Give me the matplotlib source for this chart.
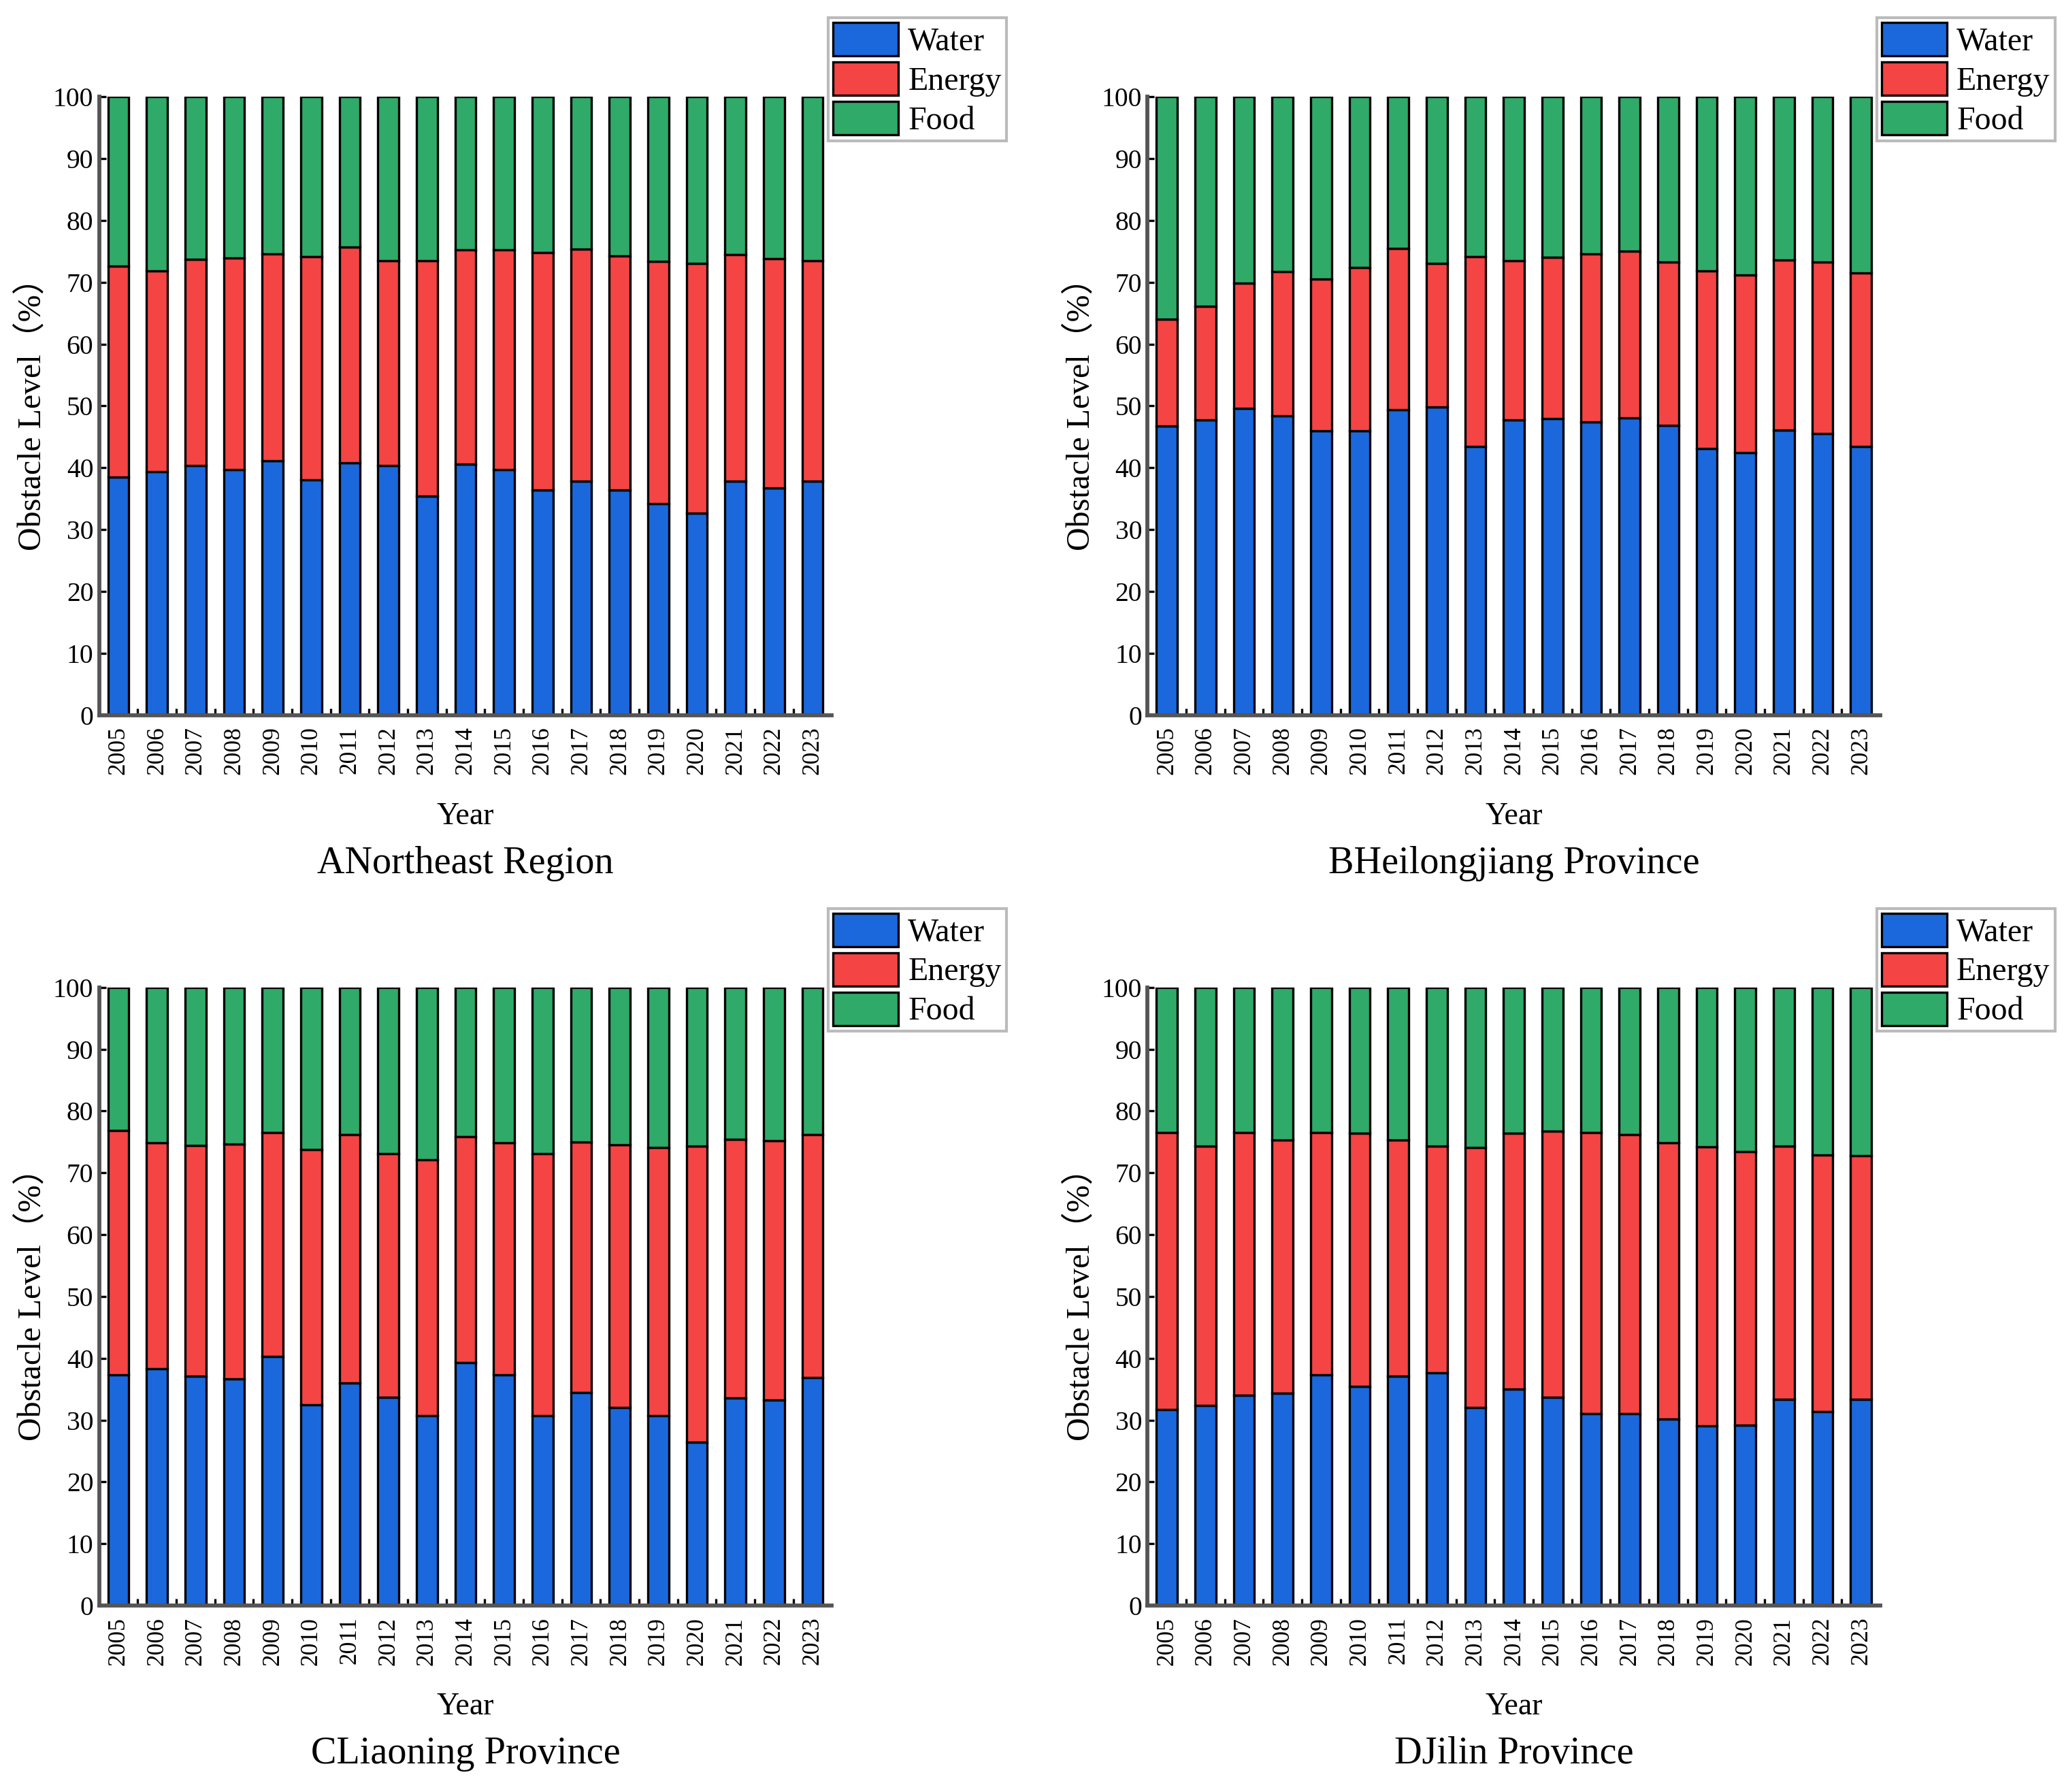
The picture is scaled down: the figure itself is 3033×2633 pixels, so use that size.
import matplotlib
matplotlib.use('Agg')
import matplotlib.pyplot as plt
import numpy as np

plt.rcParams['font.family'] = ['Liberation Serif', 'Noto Sans CJK SC']

years = [str(y) for y in range(2005, 2024)]
series_names = ['Water', 'Energy', 'Food']
colors = ['#1a68dc', '#f44444', '#30aa68']

# water share and water+energy cumulative top
water_a = [38.5, 39.4, 40.3, 39.7, 41.1, 38.0, 40.8, 40.4, 35.4, 40.6,
           39.7, 36.4, 37.8, 36.4, 34.2, 32.7, 37.8, 36.7, 37.8]
top_a = [72.6, 71.8, 73.7, 73.9, 74.6, 74.1, 75.7, 73.5, 73.5, 75.2,
         75.3, 74.8, 75.4, 74.3, 73.4, 73.0, 74.5, 73.8, 73.5]

water_b = [46.7, 47.7, 49.6, 48.4, 46.0, 46.0, 49.4, 49.8, 43.4, 47.7,
           48.0, 47.4, 48.1, 46.9, 43.1, 42.5, 46.1, 45.5, 43.4]
top_b = [64.0, 66.1, 69.9, 71.7, 70.5, 72.4, 75.5, 73.0, 74.1, 73.5,
         74.0, 74.6, 75.0, 73.3, 71.8, 71.2, 73.6, 73.3, 71.5]

water_c = [37.3, 38.3, 37.1, 36.7, 40.3, 32.5, 36.0, 33.7, 30.7, 39.3,
           37.3, 30.7, 34.5, 32.1, 30.7, 26.4, 33.6, 33.3, 36.9]
top_c = [76.9, 74.9, 74.4, 74.7, 76.5, 73.8, 76.2, 73.1, 72.1, 75.9,
         74.9, 73.1, 75.0, 74.5, 74.1, 74.3, 75.4, 75.2, 76.2]

water_d = [31.7, 32.4, 34.0, 34.4, 37.3, 35.5, 37.1, 37.7, 32.1, 35.0,
           33.7, 31.1, 31.1, 30.2, 29.1, 29.2, 33.4, 31.4, 33.4]
top_d = [76.5, 74.3, 76.5, 75.3, 76.5, 76.4, 75.3, 74.3, 74.1, 76.4,
         76.8, 76.5, 76.2, 74.9, 74.2, 73.4, 74.3, 72.9, 72.8]

titles = ['ANortheast Region', 'BHeilongjiang Province',
          'CLiaoning Province', 'DJilin Province']
panels = [(water_a, top_a), (water_b, top_b), (water_c, top_c), (water_d, top_d)]

serif = ['Liberation Serif', 'Noto Sans CJK SC']

fig = plt.figure(figsize=(3033 / 300, 2633 / 300), dpi=300)
positions = [[0.048, 0.601, 0.355, 0.345], [0.556, 0.601, 0.355, 0.345],
             [0.048, 0.104, 0.355, 0.345], [0.556, 0.104, 0.355, 0.345]]

for pos, (water, top), title in zip(positions, panels, titles):
    ax = fig.add_axes(pos)
    water = np.array(water)
    top = np.array(top)
    energy = top - water
    food = 100 - top
    x = np.arange(len(years))
    w = 0.54
    ax.bar(x, water, w, color=colors[0], edgecolor='black', linewidth=0.8, label=series_names[0])
    ax.bar(x, energy, w, bottom=water, color=colors[1], edgecolor='black', linewidth=0.8, label=series_names[1])
    ax.bar(x, food, w, bottom=top, color=colors[2], edgecolor='black', linewidth=0.8, label=series_names[2])

    ax.set_xlim(-0.5, len(years) - 0.5)
    ax.set_ylim(0, 100)
    ax.set_yticks(range(0, 101, 10))
    ax.set_yticklabels([str(v) for v in range(0, 101, 10)], fontsize=9.5, family=serif)
    ax.set_xticks(x)
    ax.set_xticklabels(years, rotation=90, fontsize=8.5, family=serif)
    ax.set_xticks(x[:-1] + 0.5, minor=True)
    ax.tick_params(axis='y', direction='in', length=2.5, width=0.8, pad=2)
    ax.tick_params(axis='x', which='major', length=0, pad=4)
    ax.tick_params(axis='x', which='minor', direction='in', length=2.5, width=0.8)
    for s in ['top', 'right']:
        ax.spines[s].set_visible(False)
    for s in ['left', 'bottom']:
        ax.spines[s].set_color('#555555')
        ax.spines[s].set_linewidth(1.4)

    ax.set_ylabel('Obstacle Level（%）', fontsize=11.5, labelpad=2, family=serif)
    ax.text(0.5, -0.164, 'Year', transform=ax.transAxes, ha='center', va='center',
            fontsize=11, family=serif)
    ax.text(0.5, -0.24, title, transform=ax.transAxes, ha='center', va='center',
            fontsize=13.5, family=serif)

    leg = ax.legend(loc='upper left', bbox_to_anchor=(0.995, 1.128),
                    prop={'family': 'Liberation Serif', 'size': 11.5},
                    frameon=True, fancybox=False, edgecolor='#aaaaaa',
                    handlelength=2.0, handleheight=1.2, handletextpad=0.3,
                    labelspacing=0.15, borderpad=0.15, borderaxespad=0)
    leg.get_frame().set_linewidth(1.0)

fig.savefig('out.png', dpi=300, facecolor='white')
